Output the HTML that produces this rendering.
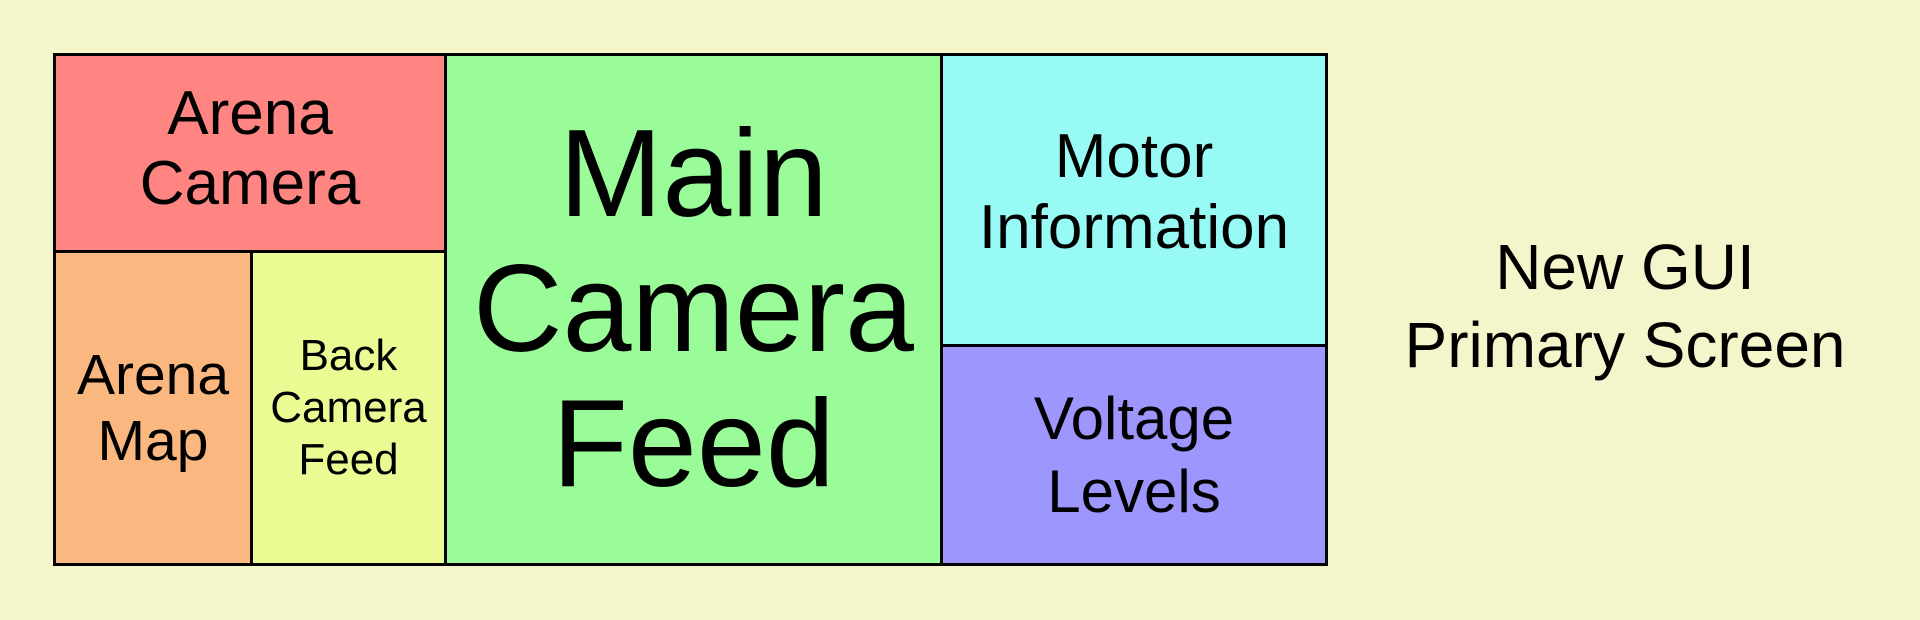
<!DOCTYPE html>
<html><head><meta charset="utf-8"><style>
body{margin:0;width:1920px;height:620px;background:#f5f5cc;position:relative;overflow:hidden;font-family:"Liberation Sans",sans-serif;color:#000}
.b{position:absolute;box-sizing:border-box;border:3px solid #000;display:flex;align-items:center;justify-content:center;text-align:center}
</style></head><body>
<div class="b" style="left:53px;top:53px;width:394px;height:200px;background:#fe8582;font-size:62px;line-height:70px;padding-bottom:8px">Arena<br>Camera</div>
<div class="b" style="left:53px;top:250px;width:200px;height:316px;background:#fab880;font-size:57px;line-height:66px">Arena<br>Map</div>
<div class="b" style="left:250px;top:250px;width:197px;height:316px;background:#ecfa93;font-size:44px;line-height:52px">Back<br>Camera<br>Feed</div>
<div class="b" style="left:444px;top:53px;width:499px;height:513px;background:#9afb99;font-size:124px;line-height:135px">Main<br>Camera<br>Feed</div>
<div class="b" style="left:940px;top:53px;width:388px;height:294px;background:#98faf5;font-size:62px;line-height:71px;padding-bottom:16px">Motor<br>Information</div>
<div class="b" style="left:940px;top:344px;width:388px;height:222px;background:#9d96fc;font-size:60px;line-height:73px">Voltage<br>Levels</div>
<div style="position:absolute;left:1340px;width:570px;top:228px;text-align:center;font-size:64px;line-height:78px">New GUI<br>Primary Screen</div>
</body></html>
